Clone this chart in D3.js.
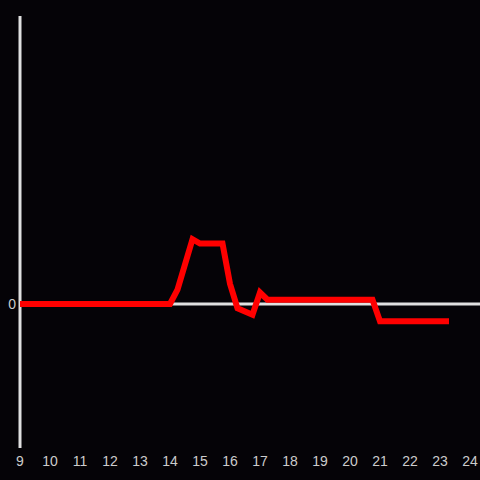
<!DOCTYPE html>
<html><head><meta charset="utf-8">
<script src="https://cdn.jsdelivr.net/npm/d3@7"></script>
<style>html,body{margin:0;padding:0;background:#050307;}svg{display:block;}</style>
</head><body>
<script>
const hours = [9, 14.0, 14.25, 14.75, 15.0, 15.75, 16.0, 16.25, 16.75, 17.0, 17.25, 20.75, 21.0, 23.3];
const values = [0, 0, 0.1, 0.45, 0.42, 0.42, 0.14, -0.03, -0.075, 0.08, 0.03, 0.03, -0.12, -0.12];
const xTicks = [9,10,11,12,13,14,15,16,17,18,19,20,21,22,23,24];
const yTicks = [0];

const W = 480, H = 480;
const svg = d3.select("body").append("svg").attr("width", W).attr("height", H);
svg.append("rect").attr("width", W).attr("height", H).attr("fill", "#050307");

const x = d3.scaleLinear().domain([9, 24]).range([20, 470]);
const y = d3.scaleLinear().domain([-1, 2]).range([448, 16]);

// y axis line
svg.append("line").attr("x1", 20).attr("x2", 20).attr("y1", 16).attr("y2", 448)
  .attr("stroke", "#e0e0e0").attr("stroke-width", 3);
// zero line
svg.append("line").attr("x1", 20).attr("x2", 480).attr("y1", y(0)).attr("y2", y(0))
  .attr("stroke", "#e0e0e0").attr("stroke-width", 3);

// x tick labels
svg.append("g").selectAll("text").data(xTicks).join("text")
  .attr("x", d => x(d)).attr("y", 466)
  .attr("text-anchor", "middle")
  .attr("fill", "#cccccc").attr("font-family", "Liberation Sans, Arial, sans-serif").attr("font-size", 14)
  .text(d => d);
// y tick labels
svg.append("g").selectAll("text").data(yTicks).join("text")
  .attr("x", 16).attr("y", d => y(d) + 5)
  .attr("text-anchor", "end")
  .attr("fill", "#cccccc").attr("font-family", "Liberation Sans, Arial, sans-serif").attr("font-size", 14)
  .text(d => d);

const data = hours.map((h, i) => [h, values[i]]);
svg.append("path").datum(data)
  .attr("fill", "none").attr("stroke", "#ff0000").attr("stroke-width", 6)
  .attr("stroke-linejoin", "miter")
  .attr("d", d3.line().x(d => x(d[0])).y(d => y(d[1])));
</script>
</body></html>
